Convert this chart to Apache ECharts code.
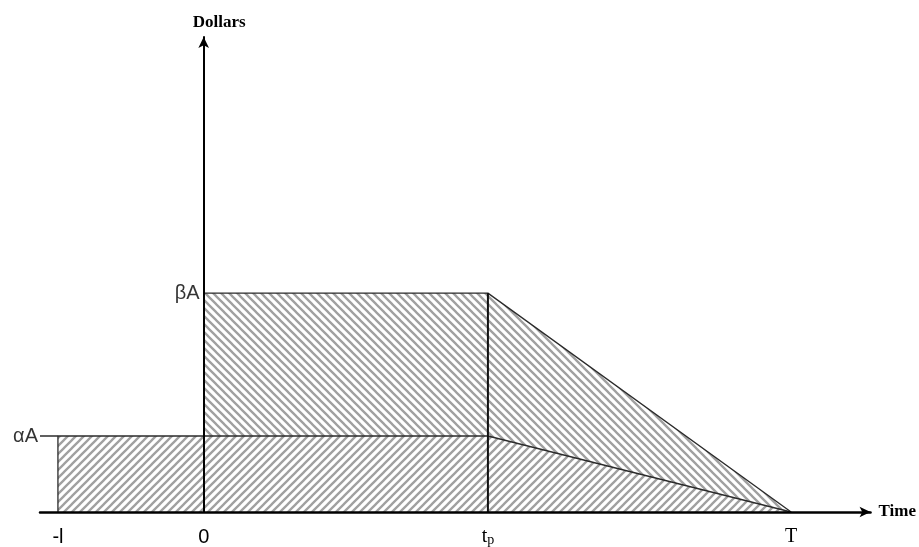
<!DOCTYPE html>
<html>
<head>
<meta charset="utf-8">
<script src="https://cdn.jsdelivr.net/npm/echarts@6/dist/echarts.min.js"></script>
<style>html,body{margin:0;padding:0;background:#fff}#c{width:919px;height:547px}</style>
</head>
<body>
<div id="c"></div>
<script>
// Time positions (relative units): -l, 0, t_p, T
var xTickValues = [-1, 0, 1.95, 4.03];
var xTickLabels = ['-l', '0', 't_p', 'T'];
// Dollar levels: alphaA, betaA
var levelValues = [1, 2.88];
var levelLabels = ['\u03b1A', '\u03b2A'];
// axis extents
var xRange = [-1.123, 4.575];
var yRange = [0, 6.25];

var L = xTickValues[0], Z = xTickValues[1], TP = xTickValues[2], TT = xTickValues[3];
var aA = levelValues[0], bA = levelValues[1];

function hatch(dir, bg) {
  var c = document.createElement('canvas');
  c.width = 8; c.height = 8;
  var g = c.getContext('2d');
  if (bg) { g.fillStyle = bg; g.fillRect(0, 0, 8, 8); }
  g.strokeStyle = '#a0a0a0';
  g.lineWidth = 2.3;
  g.beginPath();
  if (dir === '/') {
    g.moveTo(0, 8); g.lineTo(8, 0);
    g.moveTo(-1, 1); g.lineTo(1, -1);
    g.moveTo(7, 9); g.lineTo(9, 7);
  } else {
    g.moveTo(0, 0); g.lineTo(8, 8);
    g.moveTo(7, -1); g.lineTo(9, 1);
    g.moveTo(-1, 7); g.lineTo(1, 9);
  }
  g.stroke();
  return c;
}

var chart = echarts.init(document.getElementById('c'), null, {renderer: 'canvas'});
var outline = {color: '#2b2b2b', width: 1.3};
var sans = '"Liberation Sans", Arial, sans-serif';
var serif = '"Liberation Serif", "Times New Roman", serif';

chart.setOption({
  animation: false,
  backgroundColor: '#fff',
  grid: {left: 40, right: 47, top: 37, bottom: 35},
  xAxis: {
    type: 'value', min: xRange[0], max: xRange[1], z: 10,
    name: 'Time', nameLocation: 'end', nameGap: 8,
    nameTextStyle: {fontFamily: serif, fontWeight: 'bold', fontSize: 17, color: '#000'},
    splitLine: {show: false}, axisTick: {show: false},
    axisLine: {show: true, onZero: true, symbol: ['none', 'arrow'], symbolSize: [8, 11],
      lineStyle: {color: '#000', width: 2.5}},
    axisLabel: {
      show: true, margin: 15, customValues: xTickValues, showMinLabel: true, showMaxLabel: true,
      formatter: function (v) {
        var i = xTickValues.indexOf(v);
        if (i < 0) return '';
        var s = xTickLabels[i];
        if (s === 't_p') return '{t|t}{p|p}';
        if (s === 'T') return '{t|T}';
        return '{s|' + s + '}';
      },
      rich: {
        s: {fontFamily: sans, fontSize: 20, color: '#000'},
        t: {fontFamily: serif, fontSize: 20, color: '#000'},
        p: {fontFamily: serif, fontSize: 14, color: '#000', verticalAlign: 'bottom', padding: [6, 0, 0, 0]}
      }
    }
  },
  yAxis: {
    type: 'value', min: yRange[0], max: yRange[1], z: 10,
    name: 'Dollars', nameLocation: 'end', nameGap: 6,
    nameTextStyle: {fontFamily: serif, fontWeight: 'bold', fontSize: 17, color: '#000', padding: [0, 0, 0, 31]},
    splitLine: {show: false}, axisTick: {show: false}, axisLabel: {show: false},
    axisLine: {show: true, onZero: true, symbol: ['none', 'arrow'], symbolSize: [8, 11],
      lineStyle: {color: '#000', width: 2}}
  },
  series: [
    {
      type: 'line', z: 2, symbol: 'none', silent: true,
      data: [[Z, 0], [Z, bA], [TP, bA], [TT, 0]],
      lineStyle: outline,
      areaStyle: {color: {image: hatch('\\', '#fff'), repeat: 'repeat'}, opacity: 1}
    },
    {
      type: 'line', z: 3, symbol: 'none', silent: true,
      data: [[L, 0], [L, aA], [TP, aA], [TT, 0]],
      lineStyle: outline,
      areaStyle: {color: {image: hatch('/', '#fff'), repeat: 'repeat'}, opacity: 1}
    },
    {
      type: 'line', z: 4, symbol: 'none', silent: true,
      data: [[TP, 0], [TP, bA]],
      lineStyle: {color: '#111', width: 2}
    },
    {
      type: 'line', z: 4, symbol: 'none', silent: true,
      data: [[xRange[0], aA], [L, aA]],
      lineStyle: outline
    },
    {
      type: 'scatter', z: 20, symbolSize: 2, silent: true, clip: false,
      itemStyle: {color: 'rgba(0,0,0,0)'},
      data: [
        {value: [xRange[0], aA], label: {formatter: levelLabels[0], distance: 1}},
        {value: [Z, bA], label: {formatter: levelLabels[1], distance: 3}}
      ],
      label: {show: true, position: 'left', fontFamily: sans, fontSize: 20, color: '#000'}
    }
  ]
});
</script>
</body>
</html>
